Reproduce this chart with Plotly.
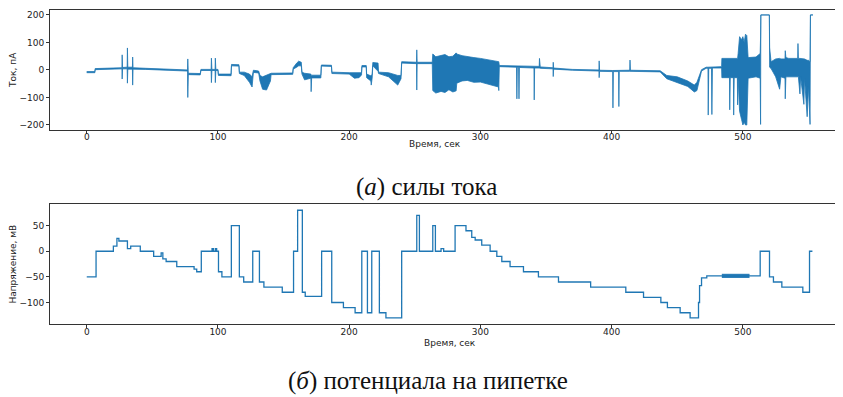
import plotly.graph_objects as go

# ---------------- data: current envelope (time, low, high) ----------------
cur_t = [0, 6.2, 6.4, 20, 26.8, 27, 27.3, 30.8, 31, 31.3, 34.8, 35, 35.3, 45, 60, 72, 76.8, 77, 77.4,
         86.5, 87, 94.8, 95, 95.4, 97.8, 98, 98.4, 100, 100.3, 110, 110.3, 116, 116.3, 120, 124, 126,
         127, 131, 132, 134, 137, 140, 140.5, 157, 157.3, 160, 161.5, 163.5, 164, 166, 170.8, 171,
         171.4, 178.4, 178.8, 186.5, 186.8, 200, 204, 207.5, 209.4, 209.7, 213, 213.3, 216.5, 216.8,
         217.5, 218, 222, 222.4, 230, 237, 239.5, 240, 251.3, 251.5, 251.8, 263.3, 263.7, 266, 270,
         273, 276, 279, 281.5, 282, 286, 290, 295, 300, 305, 309, 312, 313.8, 314, 314.4, 327.5,
         327.8, 328.1, 329.1, 329.4, 329.7,
         340.8, 341, 341.3, 344.8, 345, 345.6, 355.3, 355.5, 355.8, 370, 390.3, 390.5, 390.8, 400.8,
         401, 401.3, 405.3, 405.5, 405.8, 413.8, 414, 414.3, 437, 442, 450, 458, 463, 465, 468.5, 472,
         473.4, 473.6, 474, 476.1, 476.4, 476.8, 483.8, 484, 489.8, 490, 490.4, 492.8, 493, 493.4,
         495.8, 496, 496.4, 497.5, 499, 500, 501, 502, 503, 504, 510, 513.2, 513.5, 513.7, 520.2,
         520.4, 521.5, 525, 528, 529, 532.1, 532.3, 532.8, 535, 541.8, 542, 542.3, 543.5, 544, 546.5,
         547, 549, 550, 551.2, 551.5, 553.4]
cur_lo = [-10, -10, 1, 3, 4, -33, 4, 4, -48, 3, 3, -55, 3, 2, 0, -3, -4, -100, -17,
          -18, -2, -2, -46, -2, -2, -46, -2, -2, -20, -21, 15, 14, -13, -20, -45, -62,
          -9, -11, -40, -70, -73, -40, -17, -16, 3, 10, 15, 15, -15, -36, -30, -79,
          -29, -29, 14, 13, -13, -15, -30, -28, -18, 11, 11, -28, -40, -55,
          -30, 15, -5, -13, -25, -55, -32, 25, 23, -73, 23, 23, -75, -84, -78,
          -82, -72, -80, -76, -48, -40, -38, -45, -44, -50, -55, -58, -62, -75, 12, 10,
          -105, 10, 10, -105, 9,
          7, -109, 7, 7, 6, 6, 4, -24, 3, -1, -4, -28, -5, -6,
          -138, -6, -6, -133, -5, -5, -5, -5, -7, -32, -45, -60, -80, -75, -4, 6,
          6, -164, 6, 6, -162, 7, 7, -28, -28, -145, -28, -28, -164, -28,
          -28, -127, -28, -150, -180, -200, -190, -200, -200, -30, -25, -30, -198, 200, 200,
          10, 5, -25, -70, -25, -30, -105, -25, -25, -25, -20, -25, -87, -25, -125,
          -30, -170, -60, -198, 200, 200]
cur_hi = [-6, -6, 5, 7, 8, 55, 9, 10, 80, 10, 10, 47, 8, 6, 4, 1, 0, 40, -12,
          -13, 2, 2, 43, 2, 2, 43, 2, 2, -15, -15, 20, 19, -8, -8, -15, -25,
          -1, -4, -20, -25, -20, -15, -12, -11, 8, 25, 32, 28, -8, -12, -15, -20,
          -19, -19, 18, 17, -8, -10, -10, -8, -10, 16, 16, -15, -20, -22,
          -15, 27, 25, -8, -10, -20, -20, 30, 28, 73, 28, 28, 58, 48, 52,
          56, 48, 50, 62, 58, 52, 50, 45, 42, 38, 35, 33, 30, 30, 16, 14,
          14, 14, 14, 14, 13,
          11, 11, 11, 13, 42, 11, 8, 28, 7, 2, 0, 33, -1, -2,
          -2, -2, -2, 0, -1, -1, 36, -1, -3, -20, -25, -40, -55, -45, 1, 10,
          10, 10, 10, 10, 10, 11, 12, 42, 42, 42, 42, 42, 42, 42,
          42, 42, 60, 121, 110, 121, 100, 130, 125, 45, 47, 60, 120, 200, 200,
          80, 30, 40, 42, 40, 40, 70, 45, 42, 42, 96, 42, 42, 42, 40,
          40, 35, 35, 30, 200, 200]

# ---------------- data: pipette potential (step levels) ----------------
volt_t = [0, 7.1, 20.3, 23, 24.5, 31, 33.5, 40.8, 51, 56.7, 58, 60.5, 68.6, 81.8, 83.8, 87.3,
          95.5, 96.5, 98, 99, 100.4, 103, 110.2, 116.3, 119.6, 126.5, 131.6, 135, 149, 157.6,
          160.7, 164.3, 166.5, 179, 186.7, 195.6, 204.5, 209.6, 213.9, 217.2, 223, 228, 240,
          251.5, 253.5, 263.7, 265.7, 270, 272, 280.7, 289, 293.4, 296, 301, 307.4, 312.5,
          316.3, 322.6, 332.8, 344.2, 359.5, 384, 410.8, 424.3, 437.5, 442.5, 452.2, 459.8,
          466.2, 467, 468.5, 472.5, 513.2, 520.3, 523.3, 529.7, 545.7, 550.8, 553]
volt_v = [-50, 0, 10, 25, 20, 5, 10, 0, -10, -3, -15, -20, -30, -35, -40, 0,
          5, 0, 5, 0, -40, -50, 50, -50, -60, 0, -60, -70, -80, 0,
          80, -80, -88, 0, -100, -110, -120, 0, -120, 0, -120, -130, 0,
          70, 0, 50, 0, 5, 0, 50, 40, 27, 22, 12, 0, -10,
          -20, -30, -40, -50, -60, -70, -80, -90, -100, -110, -120, -130,
          -100, -67, -52, -48, 0, -50, -60, -70, -80, 0, 0]
# jitter band of the potential during 484-505 s
vband_t = [484, 505]
vband_lo = [-51, -51]
vband_hi = [-45, -45]

x_ticks = [0, 100, 200, 300, 400, 500]
y1_ticks = [-200, -100, 0, 100, 200]
y2_ticks = [-100, -50, 0, 50]

BLUE = "#1f77b4"
FONT = dict(family="DejaVu Sans", size=9, color="#222222")

fig = go.Figure()
fig.add_trace(go.Scatter(x=cur_t, y=cur_hi, mode="lines", line=dict(color=BLUE, width=0.8),
                         xaxis="x", yaxis="y", showlegend=False, hoverinfo="skip"))
fig.add_trace(go.Scatter(x=cur_t, y=cur_lo, mode="lines", line=dict(color=BLUE, width=0.8),
                         fill="tonexty", fillcolor=BLUE,
                         xaxis="x", yaxis="y", showlegend=False, hoverinfo="skip"))
fig.add_trace(go.Scatter(x=volt_t, y=volt_v, mode="lines", line=dict(color=BLUE, width=1.3, shape="hv"),
                         xaxis="x2", yaxis="y2", showlegend=False))
fig.add_trace(go.Scatter(x=vband_t, y=vband_hi, mode="lines", line=dict(color=BLUE, width=1),
                         xaxis="x2", yaxis="y2", showlegend=False, hoverinfo="skip"))
fig.add_trace(go.Scatter(x=vband_t, y=vband_lo, mode="lines", line=dict(color=BLUE, width=1),
                         fill="tonexty", fillcolor=BLUE,
                         xaxis="x2", yaxis="y2", showlegend=False, hoverinfo="skip"))

axis_common = dict(showgrid=False, zeroline=False, showline=True, linecolor="#333333", linewidth=1,
                   ticks="outside", ticklen=3, tickwidth=1, tickcolor="#333333", tickfont=FONT,
                   automargin=False)

# the page body adds an 8 px offset, so the figure is drawn 8 px smaller
fig.update_layout(
    width=835, height=389,
    margin=dict(l=42, r=5, t=2, b=73),
    paper_bgcolor="white", plot_bgcolor="white",
    xaxis=dict(axis_common, range=[-28, 572.5], tickvals=x_ticks, anchor="y", mirror=True,
               ticklabelstandoff=-4),
    yaxis=dict(axis_common, range=[-217, 218], tickvals=y1_ticks, domain=[0.619, 1], anchor="x",
               title=dict(text="Ток, пА", font=FONT, standoff=1)),
    xaxis2=dict(axis_common, range=[-28, 572.5], tickvals=x_ticks, anchor="y2", mirror=True,
                ticklabelstandoff=-4),
    yaxis2=dict(axis_common, range=[-142, 91.5], tickvals=y2_ticks, domain=[0, 0.381], anchor="x2",
                title=dict(text="Напряжение, мВ", font=FONT, standoff=1)),
    annotations=[
        dict(text="Время, сек", xref="paper", yref="paper", x=0.4886, y=0.573,
             xanchor="center", yanchor="middle", showarrow=False, font=FONT),
        dict(text="Время, сек", xref="paper", yref="paper", x=0.507, y=-0.0615,
             xanchor="center", yanchor="middle", showarrow=False, font=FONT),
        dict(text="(<i>а</i>) силы тока", xref="paper", yref="paper", x=0.478, y=0.437,
             xanchor="center", yanchor="middle", showarrow=False,
             font=dict(family="Liberation Serif", size=25, color="#111111")),
        dict(text="(<i>б</i>) потенциала на пипетке", xref="paper", yref="paper", x=0.48, y=-0.1815,
             xanchor="center", yanchor="middle", showarrow=False,
             font=dict(family="Liberation Serif", size=25, color="#111111")),
    ],
)

fig.write_html("out.html")
